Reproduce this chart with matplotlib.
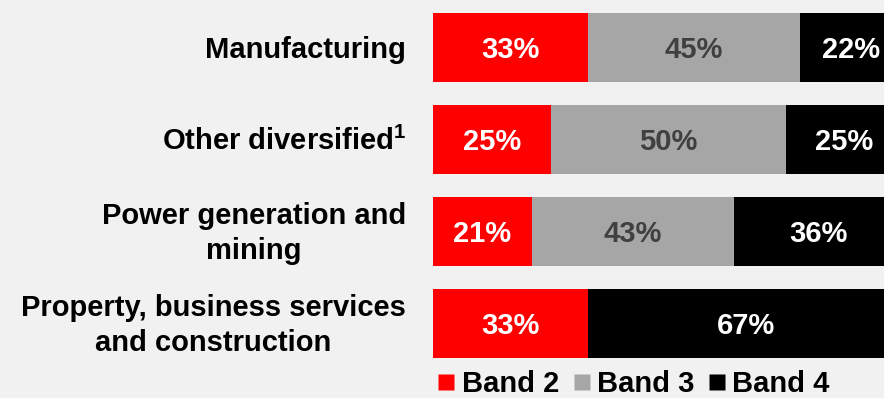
import matplotlib.pyplot as plt
import matplotlib.transforms as mtransforms
from matplotlib.lines import Line2D

plt.rcParams['font.family'] = ['Liberation Sans', 'DejaVu Sans']
plt.rcParams['font.weight'] = 'bold'
plt.rcParams['mathtext.fontset'] = 'custom'
plt.rcParams['mathtext.rm'] = 'Liberation Sans:bold'
plt.rcParams['mathtext.bf'] = 'Liberation Sans:bold'

# данные
categories = ['Manufacturing', 'Other diversified$^{\\mathbf{1}}$',
              'Power generation and\nmining',
              'Property, business services\nand construction']
band2 = [33, 25, 21, 33]
band3 = [45, 50, 43, 0]
band4 = [22, 25, 36, 67]
series_names = ['Band 2', 'Band 3', 'Band 4']
colors = ['#ff0000', '#a6a6a6', '#000000']
text_colors = ['white', '#404040', 'white']

bg = '#f1f1f1'
fs = 21
fig = plt.figure(figsize=(8.84, 3.98), dpi=100, facecolor=bg)
# ось уходит за правый край картинки, как в оригинале
ax = fig.add_axes([433 / 884, 28.5 / 398, 470 / 884, 368 / 398])
ax.set_facecolor(bg)

# сдвиг текста чуть вниз, чтобы цифры были по центру полос
down = mtransforms.offset_copy(ax.transData, fig=fig, x=0, y=-3, units='dots')

y = list(range(len(categories)))
left = [0] * len(categories)
for vals, col, tcol in zip([band2, band3, band4], colors, text_colors):
    ax.barh(y, vals, left=left, height=0.76, color=col, edgecolor='none')
    for i, v in enumerate(vals):
        if v > 0:
            ax.text(left[i] + v / 2, i, f'{v}%', ha='center', va='center',
                    color=tcol, fontsize=fs, fontweight='bold', transform=down)
    left = [l + v for l, v in zip(left, vals)]

ax.set_xlim(0, 100)
ax.set_ylim(3.5, -0.5)
ax.axis('off')

# подписи категорий
trans = mtransforms.blended_transform_factory(fig.transFigure, ax.transData)
trans = mtransforms.offset_copy(trans, fig=fig, x=0, y=-2, units='dots')
for i, cat in enumerate(categories):
    ax.text(406 / 884, i, cat, transform=trans, ha='right', va='center',
            multialignment='center', fontsize=fs, fontweight='bold',
            color='black', linespacing=1.32)

# легенда
handles = [Line2D([], [], marker='s', linestyle='none', markersize=11,
                  markerfacecolor=c, markeredgecolor='none') for c in colors]
fig.legend(handles, series_names, loc='center', bbox_to_anchor=(634 / 884, 14 / 398),
           ncol=3, frameon=False, handlelength=0.55,
           handletextpad=0.25, columnspacing=0.5, borderpad=0, borderaxespad=0,
           prop={'weight': 'bold', 'size': fs})

fig.savefig('out.png', dpi=100, facecolor=bg)
